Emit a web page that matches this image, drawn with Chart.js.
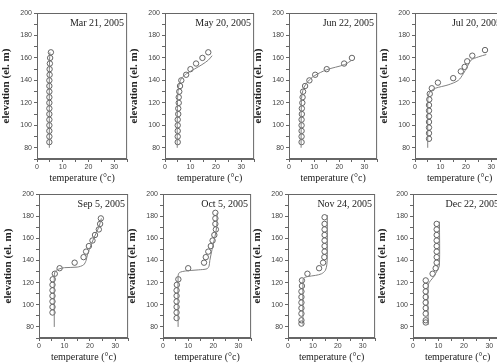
<!DOCTYPE html>
<html lang="en">
<head>
  <meta charset="UTF-8" />
  <title>Temperature profiles 2005</title>
  <script src="https://cdn.jsdelivr.net/npm/chart.js"></script>
  <style>
    html, body { margin: 0; padding: 0; background: #fff; }
    body { width: 497px; height: 364px; overflow: hidden; position: relative; }
    canvas { position: absolute; }
  </style>
</head>
<body>
  <script>
    // measured profiles: elevation (el. m) and temperature (C)
    const marElev = [85, 90, 95, 100, 105, 110, 115, 120, 125, 130, 135, 140, 145, 150, 155, 160, 165];
    const marTemp = [4.8, 4.8, 4.8, 4.8, 4.8, 4.8, 4.8, 4.8, 4.8, 4.8, 4.8, 4.8, 4.9, 4.9, 5.0, 5.1, 5.4];
    const marLineElev = [80, 150, 165];
    const marLineTemp = [4.8, 4.8, 5.0];

    const mayElev = [85, 90, 95, 100, 105, 110, 115, 120, 125, 130, 135, 140, 145, 150, 155, 160, 165];
    const mayTemp = [5, 5, 5, 5, 5, 5.2, 5.2, 5.4, 5.4, 5.6, 5.9, 6.4, 8.3, 10, 12.2, 14.7, 17];
    const mayLineElev = [80, 100, 120, 130, 137, 142, 146, 150, 154, 158, 162];
    const mayLineTemp = [4.8, 4.8, 4.9, 5.1, 5.6, 6.5, 8.5, 11.5, 14.5, 17, 18.5];

    const junElev = [85, 90, 95, 100, 105, 110, 115, 120, 125, 130, 135, 140, 145, 150, 155, 160];
    const junTemp = [5, 5, 5, 5, 5, 5.1, 5.1, 5.3, 5.4, 5.6, 6.4, 8.1, 10.4, 15, 21.9, 25];
    const junLineElev = [80, 120, 128, 134, 139, 144, 149.5, 154, 158];
    const junLineTemp = [4.8, 4.9, 5.2, 6, 7.5, 10, 15, 22, 25];

    const julElev = [88, 93, 98, 103, 108, 113, 118, 123, 128, 133, 138, 142, 148, 152, 157, 162, 167];
    const julTemp = [5.5, 5.5, 5.5, 5.5, 5.5, 5.5, 5.5, 5.6, 5.8, 6.6, 9, 15, 18, 19.5, 20.5, 22.5, 27.5];
    const julLineElev = [80, 120, 126, 130, 133, 136, 140, 146, 152, 158, 161, 163];
    const julLineTemp = [5, 5, 5.2, 6, 8, 13, 17, 19, 20.5, 22, 25, 28];

    const sepElev = [93, 98, 103, 108, 113, 118, 123, 128, 133, 138, 143, 148, 153, 158, 163, 168, 173, 178];
    const sepTemp = [5.3, 5.3, 5.3, 5.3, 5.3, 5.3, 5.4, 6.2, 8.1, 14, 17.5, 18.5, 19.6, 21, 22, 23.5, 24, 24.3];
    const sepLineElev = [80, 125, 130, 132, 133.5, 134, 136, 140, 145, 150, 160, 170, 178];
    const sepLineTemp = [6, 6, 6.3, 7.5, 10, 15, 17.5, 18.5, 19, 19.8, 21.5, 23.5, 24.5];

    const octElev = [88, 93, 98, 103, 108, 113, 118, 123, 133, 138, 143, 148, 153, 158, 163, 168, 173, 178, 183];
    const octTemp = [5.4, 5.4, 5.4, 5.4, 5.4, 5.4, 5.5, 6.1, 10, 16.3, 17, 18, 19, 19.7, 20.4, 21, 20.8, 20.8, 20.8];
    const octLineElev = [80, 126, 129, 130.5, 131.5, 132.5, 135, 140, 150, 160, 170, 183];
    const octLineTemp = [6, 6, 6.5, 9, 14, 17.5, 18.3, 18.6, 19.5, 20.5, 21.3, 21.5];

    const novElev = [83, 86, 92, 97, 102, 107, 112, 117, 122, 128, 133, 138, 143, 148, 153, 158, 163, 168, 173, 179];
    const novTemp = [5.4, 5.4, 5.4, 5.4, 5.4, 5.4, 5.4, 5.6, 5.6, 7.8, 12.5, 14.1, 14.6, 14.7, 14.7, 14.7, 14.7, 14.7, 14.7, 14.7];
    const novLineElev = [82, 120, 124, 125.5, 126.5, 128, 131, 136, 145, 181];
    const novLineTemp = [6, 6, 6.3, 8, 11, 13.5, 15, 15.6, 15.8, 15.8];

    const decElev = [84, 86, 92, 97, 102, 107, 112, 117, 122, 128, 133, 138, 143, 148, 153, 158, 163, 168, 173];
    const decTemp = [5, 5, 5, 5, 5, 5, 5, 5, 5, 7.7, 8.9, 9.3, 9.3, 9.3, 9.3, 9.3, 9.3, 9.3, 9.3];
    const decLineElev = [82, 118, 125, 132, 136, 175];
    const decLineTemp = [6, 6, 8, 9.8, 10.4, 10.4];

    const dateLabels = ['Mar 21, 2005', 'May 20, 2005', 'Jun 22, 2005', 'Jul 20, 2005',
                        'Sep 5, 2005', 'Oct 5, 2005', 'Nov 24, 2005', 'Dec 22, 2005'];

    const profiles = [
      [marElev, marTemp, marLineElev, marLineTemp],
      [mayElev, mayTemp, mayLineElev, mayLineTemp],
      [junElev, junTemp, junLineElev, junLineTemp],
      [julElev, julTemp, julLineElev, julLineTemp],
      [sepElev, sepTemp, sepLineElev, sepLineTemp],
      [octElev, octTemp, octLineElev, octLineTemp],
      [novElev, novTemp, novLineElev, novLineTemp],
      [decElev, decTemp, decLineElev, decLineTemp]
    ];

    // plot box of each panel: left, top, right, bottom (page pixels)
    const boxes = [
      [37, 13, 130, 159], [165, 13, 257, 159], [289, 13, 380, 159], [415, 13, 507, 159],
      [39, 194, 131, 338], [163, 194, 254, 338], [288, 194, 378, 338], [413, 194, 505, 338]
    ];

    const Y_W = 37, X_H = 25, PAD_T = 13;

    // frame round the plot area plus the date in the top right corner
    const framePlugin = {
      id: 'frame',
      afterDraw(chart, args, opts) {
        const { ctx, chartArea: a } = chart;
        ctx.save();
        ctx.strokeStyle = '#666';
        ctx.lineWidth = 1;
        ctx.strokeRect(a.left + 0.5, a.top + 0.5, a.right - a.left - 1, a.bottom - a.top - 1);
        ctx.fillStyle = '#222';
        ctx.font = '10px "Liberation Serif", serif';
        ctx.textAlign = 'right';
        ctx.fillText(opts.label, a.right - 3, a.top + 13);
        ctx.restore();
      }
    };

    profiles.forEach((p, i) => {
      const [elev, temp, lineElev, lineTemp] = p;
      const [l, t, r, b] = boxes[i];
      const canvas = document.createElement('canvas');
      const w = (r - l) + Y_W + 2;
      const h = (b - t) + PAD_T + X_H;
      canvas.width = w;
      canvas.height = h;
      canvas.style.left = (l - Y_W) + 'px';
      canvas.style.top = (t - PAD_T) + 'px';
      canvas.style.width = w + 'px';
      canvas.style.height = h + 'px';
      document.body.appendChild(canvas);

      new Chart(canvas.getContext('2d'), {
        type: 'scatter',
        data: {
          datasets: [
            {
              data: lineElev.map((e, k) => ({ x: lineTemp[k], y: e })),
              showLine: true,
              borderColor: '#808080',
              borderWidth: 1,
              pointRadius: 0,
              tension: 0.3,
              fill: false
            },
            {
              data: elev.map((e, k) => ({ x: temp[k], y: e })),
              showLine: false,
              pointStyle: 'circle',
              pointRadius: 2.7,
              borderWidth: 0.9,
              borderColor: '#555',
              backgroundColor: 'rgba(255,255,255,0)'
            }
          ]
        },
        options: {
          responsive: false,
          animation: false,
          devicePixelRatio: 1,
          layout: { padding: { top: PAD_T, right: 2, left: 0, bottom: 0 } },
          plugins: {
            legend: { display: false },
            tooltip: { enabled: false },
            frame: { label: dateLabels[i] }
          },
          scales: {
            x: {
              type: 'linear',
              min: 0, max: 35,
              afterFit(scale) { scale.height = X_H; },
              grid: { drawOnChartArea: false, tickLength: 3, color: '#666' },
              border: { color: '#666' },
              ticks: {
                stepSize: 5,
                autoSkip: false,
                maxRotation: 0,
                padding: 1,
                color: '#444',
                font: { family: 'Liberation Sans', size: 7 },
                callback: v => (v % 10 === 0 ? v : '')
              },
              title: {
                display: true,
                text: 'temperature (°c)',
                color: '#222',
                padding: { top: 1, bottom: 0 },
                font: { family: 'Liberation Serif', size: 10 }
              }
            },
            y: {
              type: 'linear',
              min: 70, max: 200,
              afterFit(scale) { scale.width = Y_W; },
              grid: { drawOnChartArea: false, tickLength: 3, color: '#666' },
              border: { color: '#666' },
              ticks: {
                stepSize: 10,
                autoSkip: false,
                padding: 2,
                color: '#444',
                font: { family: 'Liberation Sans', size: 7 },
                callback: v => (v % 20 === 0 ? v : '')
              },
              title: {
                display: true,
                text: 'elevation (el. m)',
                color: '#222',
                padding: { top: 0, bottom: 2 },
                font: { family: 'Liberation Serif', size: 11, weight: 'bold' }
              }
            }
          }
        },
        plugins: [framePlugin]
      });
    });
  </script>
</body>
</html>
